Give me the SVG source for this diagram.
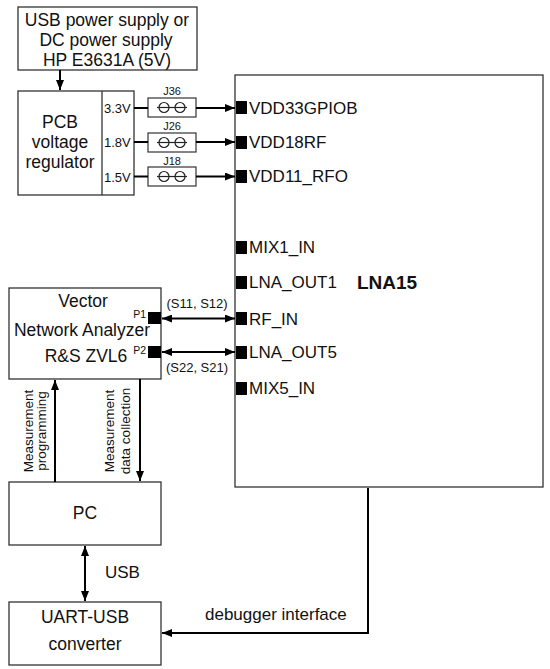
<svg xmlns="http://www.w3.org/2000/svg" width="550" height="669" viewBox="0 0 550 669">
<defs>
<marker id="ah" viewBox="0 0 10 8" refX="10" refY="4" markerWidth="10" markerHeight="8" markerUnits="userSpaceOnUse" orient="auto-start-reverse">
<path d="M0,0 L10,4 L0,8 z" fill="#000"/>
</marker>
<style>
.box{fill:#fff;stroke:#333;stroke-width:1.3}
.t{font-family:"Liberation Sans",Arial,sans-serif;fill:#111}
.m{font-size:17.5px;text-anchor:middle}
.pin{font-size:17px}
.s{font-size:13px}
.xs{font-size:11px}
.w{stroke:#000;stroke-width:2;fill:none}
.a{stroke:#000;stroke-width:2;fill:none;marker-end:url(#ah)}
.d{stroke:#000;stroke-width:2;fill:none;marker-start:url(#ah);marker-end:url(#ah)}
.sq{fill:#000}
.j{fill:#fff;stroke:#333;stroke-width:1.2}
.jl{stroke:#222;stroke-width:1.2;fill:none}
</style>
</defs>

<g id="power">
<rect class="box" x="18" y="7" width="179" height="63"/>
<text class="t m" x="107" y="26">USB power supply or</text>
<text class="t m" x="106" y="46">DC power supply</text>
<text class="t m" x="107" y="66">HP E3631A (5V)</text>
</g>

<g id="regulator">
<rect class="box" x="18" y="91" width="116" height="104"/>
<line x1="102" y1="91" x2="102" y2="195" stroke="#333" stroke-width="1.3"/>
<text class="t m" x="60" y="128">PCB</text>
<text class="t m" x="60" y="148">voltage</text>
<text class="t m" x="60" y="168">regulator</text>
<text class="t s" x="104" y="113">3.3V</text>
<text class="t s" x="104" y="147">1.8V</text>
<text class="t s" x="104" y="182">1.5V</text>
</g>

<g id="J36">
<rect class="j" x="148" y="98" width="48" height="19"/>
<circle class="jl" cx="164" cy="107.5" r="5"/>
<circle class="jl" cx="180" cy="107.5" r="5"/>
<line class="jl" x1="157" y1="107.5" x2="187" y2="107.5"/>
<text class="t xs" x="172" y="95" text-anchor="middle">J36</text>
</g>
<g id="J26">
<rect class="j" x="148" y="133" width="48" height="19"/>
<circle class="jl" cx="164" cy="142.5" r="5"/>
<circle class="jl" cx="180" cy="142.5" r="5"/>
<line class="jl" x1="157" y1="142.5" x2="187" y2="142.5"/>
<text class="t xs" x="172" y="130" text-anchor="middle">J26</text>
</g>
<g id="J18">
<rect class="j" x="148" y="167" width="48" height="19"/>
<circle class="jl" cx="164" cy="176.5" r="5"/>
<circle class="jl" cx="180" cy="176.5" r="5"/>
<line class="jl" x1="157" y1="176.5" x2="187" y2="176.5"/>
<text class="t xs" x="172" y="165" text-anchor="middle">J18</text>
</g>

<g id="LNA15">
<rect class="box" x="235" y="75" width="308" height="412"/>
<rect class="sq" x="236" y="101" width="11" height="13"/>
<text class="t pin" x="249" y="114">VDD33GPIOB</text>
<rect class="sq" x="236" y="136" width="11" height="13"/>
<text class="t pin" x="249" y="148">VDD18RF</text>
<rect class="sq" x="236" y="170" width="11" height="13"/>
<text class="t pin" x="249" y="182">VDD11_RFO</text>
<rect class="sq" x="236" y="241" width="11" height="13"/>
<text class="t pin" x="249" y="253">MIX1_IN</text>
<rect class="sq" x="236" y="276" width="11" height="13"/>
<text class="t pin" x="249" y="288">LNA_OUT1</text>
<rect class="sq" x="236" y="312" width="11" height="13"/>
<text class="t pin" x="249" y="325">RF_IN</text>
<rect class="sq" x="236" y="346" width="11" height="13"/>
<text class="t pin" x="249" y="358">LNA_OUT5</text>
<rect class="sq" x="236" y="382" width="11" height="13"/>
<text class="t pin" x="249" y="394">MIX5_IN</text>
<text class="t" x="357" y="289" font-size="19" font-weight="bold">LNA15</text>
</g>

<g id="vna">
<rect class="box" x="9" y="288" width="152" height="91"/>
<text class="t m" x="83" y="307">Vector</text>
<text class="t m" x="82" y="336">Network Analyzer</text>
<text class="t m" x="86" y="362">R&amp;S ZVL6</text>
<rect class="sq" x="148" y="312" width="13" height="12"/>
<rect class="sq" x="148" y="346" width="13" height="12"/>
<text class="t" font-size="10.5" x="146" y="317.5" text-anchor="end">P1</text>
<text class="t" font-size="10.5" x="146" y="354" text-anchor="end">P2</text>
</g>

<g id="pc">
<rect class="box" x="9" y="482" width="152" height="63"/>
<text class="t m" x="85" y="519">PC</text>
</g>

<g id="uart">
<rect class="box" x="9" y="602" width="152" height="63"/>
<text class="t m" x="85" y="623">UART-USB</text>
<text class="t m" x="85" y="650">converter</text>
</g>

<g id="connectors">
<line class="a" x1="60" y1="70" x2="60" y2="90"/>
<line class="w" x1="134" y1="108" x2="148" y2="108"/>
<line class="a" x1="196" y1="108" x2="235" y2="108"/>
<line class="w" x1="134" y1="142" x2="148" y2="142"/>
<line class="a" x1="196" y1="142" x2="235" y2="142"/>
<line class="w" x1="134" y1="176.5" x2="148" y2="176.5"/>
<line class="a" x1="196" y1="176.5" x2="235" y2="176.5"/>
<line class="d" x1="162" y1="318.5" x2="235" y2="318.5"/>
<line class="d" x1="162" y1="352" x2="235" y2="352"/>
<text class="t s" x="197" y="308" text-anchor="middle">(S11, S12)</text>
<text class="t s" x="197" y="372" text-anchor="middle">(S22, S21)</text>
<line class="a" x1="55" y1="482" x2="55" y2="380"/>
<line class="a" x1="140" y1="379" x2="140" y2="481"/>
<text class="t" font-size="13.5" text-anchor="middle" transform="translate(33,431) rotate(-90)">Measurement</text>
<text class="t" font-size="13.5" text-anchor="middle" transform="translate(46,431) rotate(-90)">programming</text>
<text class="t" font-size="13.5" text-anchor="middle" transform="translate(114,431) rotate(-90)">Measurement</text>
<text class="t" font-size="13.5" text-anchor="middle" transform="translate(130,431) rotate(-90)">data collection</text>
<line class="d" x1="85" y1="546" x2="85" y2="601"/>
<text class="t" x="105" y="578" font-size="17">USB</text>
<polyline class="a" points="368,488 368,633 162,633"/>
<text class="t" x="205" y="620" font-size="17">debugger interface</text>
</g>
</svg>
